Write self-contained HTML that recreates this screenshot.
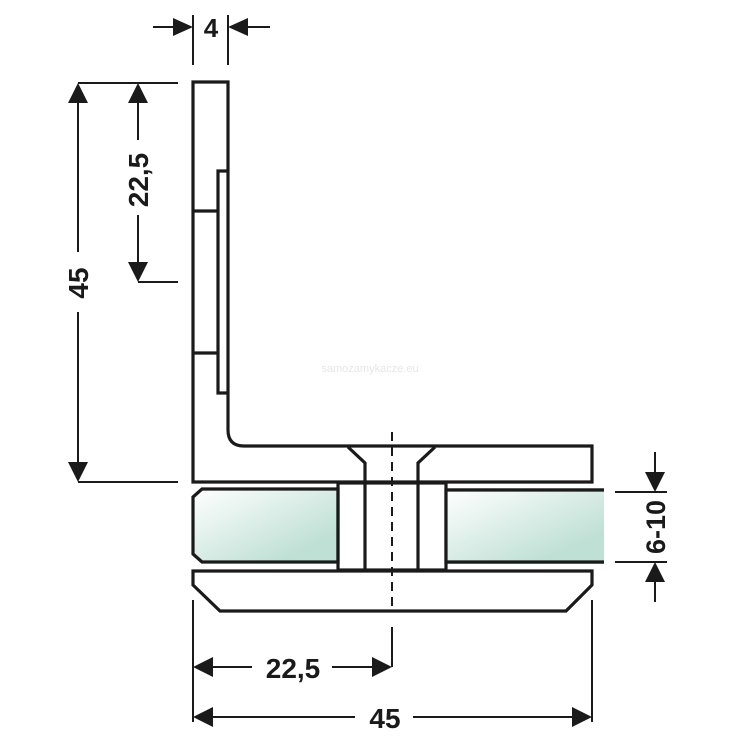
<!DOCTYPE html>
<html><head><meta charset="utf-8"><style>
html,body{margin:0;padding:0;background:#fff;}
svg{display:block;}
text{font-family:"Liberation Sans",Arial,sans-serif;font-weight:bold;fill:#1a1a1a;}
</style></head><body>
<svg width="738" height="738" viewBox="0 0 738 738" xmlns="http://www.w3.org/2000/svg">
<defs>
<linearGradient id="g" x1="0" y1="0" x2="1" y2="1">
<stop offset="0" stop-color="#ffffff"/><stop offset="0.8" stop-color="#bfe0d5"/>
</linearGradient>
<linearGradient id="g2" x1="0" y1="0" x2="1" y2="1">
<stop offset="0" stop-color="#ffffff"/><stop offset="0.8" stop-color="#bfe0d5"/>
</linearGradient>
</defs>
<g fill="none" stroke="#1a1a1a" stroke-width="3.2" stroke-linejoin="miter">
<!-- L bracket -->
<path d="M193,482 L193,82 L228,82 L228,430 Q228,446 244,446 L592,446 L592,482 Z"/>
<path d="M228,171 L218,171 L218,393 L228,393"/>
<line x1="193" y1="211" x2="218" y2="211"/>
<line x1="193" y1="353" x2="218" y2="353"/>
<!-- funnel -->
<path d="M348,447 L365,463 L365,570"/>
<path d="M435,447 L418,463 L418,570"/>
<!-- glass left -->
<path d="M338,489 L202,489 L193,497 L193,554 L202,562 L338,562 Z" fill="url(#g)"/>
<!-- glass right -->
<path d="M604,490 L446,490 L446,562 L604,562" fill="url(#g2)"/>
<rect x="446" y="490" width="158" height="72" fill="url(#g2)" stroke="none"/>
<line x1="446" y1="490" x2="604" y2="490"/>
<line x1="446" y1="562" x2="604" y2="562"/>
<!-- spacer -->
<rect x="338" y="483" width="108" height="87"/>
<!-- bottom plate -->
<path d="M193,571 L592,571 L592,585 L566,611 L220,611 L193,585 Z"/>
</g>
<line x1="392" y1="432" x2="392" y2="610" stroke="#1a1a1a" stroke-width="2" stroke-dasharray="9,6"/>
<!-- dimension lines -->
<g stroke="#1a1a1a" stroke-width="2" fill="none">
<line x1="193" y1="15" x2="193" y2="65"/>
<line x1="228" y1="15" x2="228" y2="65"/>
<line x1="153" y1="27" x2="180" y2="27"/>
<line x1="242" y1="27" x2="270" y2="27"/>
<line x1="78" y1="83" x2="178" y2="83"/>
<line x1="78" y1="482" x2="178" y2="482"/>
<line x1="138" y1="282" x2="178" y2="282"/>
<line x1="78" y1="95" x2="78" y2="252"/>
<line x1="78" y1="312" x2="78" y2="470"/>
<line x1="138" y1="95" x2="138" y2="140"/>
<line x1="138" y1="215" x2="138" y2="270"/>
<line x1="193" y1="600" x2="193" y2="722"/>
<line x1="592" y1="600" x2="592" y2="722"/>
<line x1="392" y1="627" x2="392" y2="667"/>
<line x1="205" y1="667" x2="252" y2="667"/>
<line x1="332" y1="667" x2="380" y2="667"/>
<line x1="205" y1="717" x2="355" y2="717"/>
<line x1="413" y1="717" x2="580" y2="717"/>
<line x1="615" y1="492" x2="667" y2="492"/>
<line x1="615" y1="562" x2="667" y2="562"/>
<line x1="655" y1="452" x2="655" y2="480"/>
<line x1="655" y1="575" x2="655" y2="602"/>
</g>
<g fill="#1a1a1a">
<polygon points="193,27 173,18 173,36"/>
<polygon points="228,27 248,18 248,36"/>
<polygon points="78,83 68,103 88,103"/>
<polygon points="78,482 68,462 88,462"/>
<polygon points="138,83 128,103 148,103"/>
<polygon points="138,282 128,262 148,262"/>
<polygon points="193,667 213,657 213,677"/>
<polygon points="392,667 372,657 372,677"/>
<polygon points="193,717 213,707 213,727"/>
<polygon points="592,717 572,707 572,727"/>
<polygon points="655,492 645,472 665,472"/>
<polygon points="655,562 645,582 665,582"/>
</g>
<text x="211" y="37" font-size="26" text-anchor="middle">4</text>
<text x="293" y="678" font-size="28" text-anchor="middle">22,5</text>
<text x="385" y="728" font-size="28" text-anchor="middle">45</text>
<text transform="translate(88,283) rotate(-90)" font-size="28" text-anchor="middle">45</text>
<text transform="translate(148,180) rotate(-90)" font-size="28" text-anchor="middle">22,5</text>
<text transform="translate(665,527) rotate(-90)" font-size="27" text-anchor="middle">6-10</text>
<text x="370" y="372" font-size="11" font-weight="normal" fill="#e4e4e4" style="fill:#e6e6e6;font-weight:normal" text-anchor="middle">samozamykacze.eu</text>
</svg>
</body></html>
